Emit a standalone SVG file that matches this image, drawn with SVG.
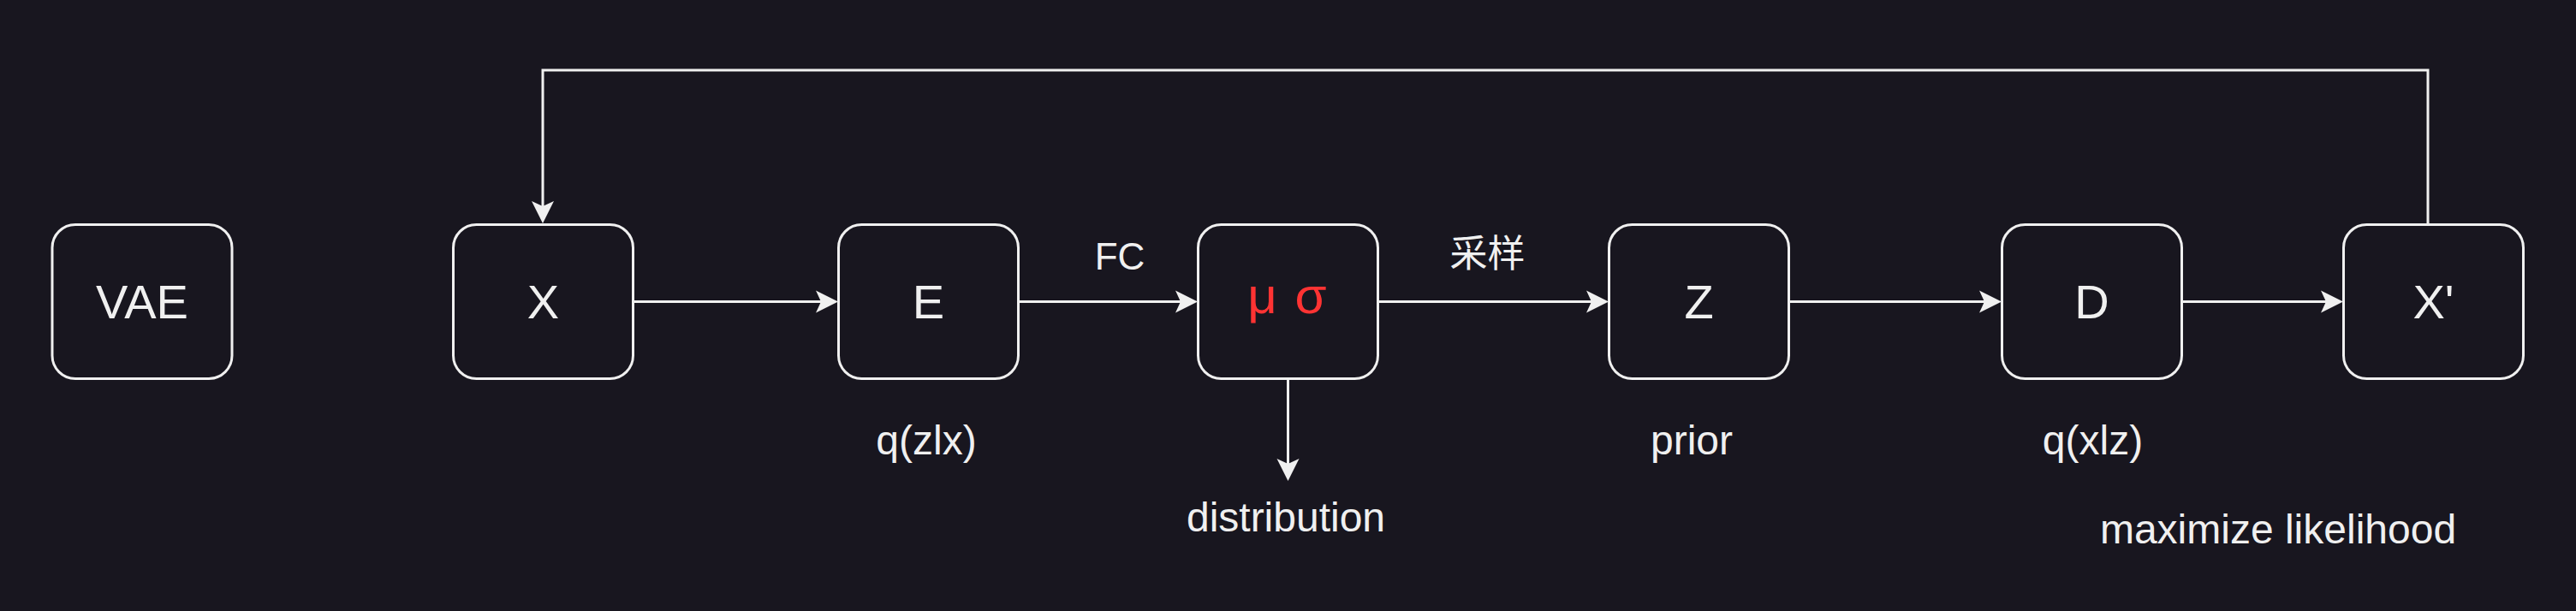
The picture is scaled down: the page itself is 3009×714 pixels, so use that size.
<svg xmlns="http://www.w3.org/2000/svg" width="3009" height="714" viewBox="0 0 3009 714">
<style>
.box{fill:#18161f;stroke:#f0f0f0;stroke-width:3}
.t{font-family:"Liberation Sans",Arial,sans-serif;fill:#f0f0f0;text-anchor:middle}
.big{font-size:56px}
.lbl{font-size:48px}
.edge{font-size:44px}
.red{fill:#ff3333;font-size:60px}
.cn{fill:none;stroke:#f0f0f0;stroke-width:3}
</style>
<defs>
<marker id="arr" markerUnits="userSpaceOnUse" viewBox="-22 -15 30 30" markerWidth="30" markerHeight="30" refX="0" refY="0" orient="auto" overflow="visible">
<path d="M6,0 L-20,-13 L-14,0 L-20,13 Z" fill="#f0f0f0"/>
</marker>
</defs>
<rect width="3009" height="714" fill="#18161f"/>
<g id="connectors">
<path class="cn" d="M740,352.5 H973" marker-end="url(#arr)"/>
<path class="cn" d="M1190,352.5 H1393" marker-end="url(#arr)"/>
<path class="cn" d="M1610,352.5 H1873" marker-end="url(#arr)"/>
<path class="cn" d="M2090,352.5 H2332" marker-end="url(#arr)"/>
<path class="cn" d="M2549,352.5 H2731" marker-end="url(#arr)"/>
<path class="cn" d="M1504.5,443 V556" marker-end="url(#arr)"/>
<path class="cn" d="M2836,262 V82 H634 V255" marker-end="url(#arr)"/>
<text class="t edge" x="1308" y="315">FC</text>
<text class="t edge" x="1737.5" y="312" style="font-family:'Noto Sans CJK SC',sans-serif">采样</text>
</g>
<g id="n-vae"><rect class="box" x="61" y="262.5" width="210" height="180" rx="27"/><text class="t big" x="166" y="372">VAE</text></g>
<g id="n-x"><rect class="box" x="529.5" y="262.5" width="210" height="180" rx="27"/><text class="t big" x="634.5" y="372">X</text></g>
<g id="n-e"><rect class="box" x="979.5" y="262.5" width="210" height="180" rx="27"/><text class="t big" x="1084.5" y="372">E</text></g>
<g id="n-mu"><rect class="box" x="1399.5" y="262.5" width="210" height="180" rx="27"/><text class="t red" x="1504.5" y="366" letter-spacing="2">μ σ</text></g>
<g id="n-z"><rect class="box" x="1879.5" y="262.5" width="210" height="180" rx="27"/><text class="t big" x="1984.5" y="372">Z</text></g>
<g id="n-d"><rect class="box" x="2338.5" y="262.5" width="210" height="180" rx="27"/><text class="t big" x="2443.5" y="372">D</text></g>
<g id="n-xp"><rect class="box" x="2737.5" y="262.5" width="210" height="180" rx="27"/><text class="t big" x="2842.5" y="372">X'</text></g>
<g id="l-qzx"><text class="t lbl" x="1082" y="531">q(zlx)</text></g>
<g id="l-dist"><text class="t lbl" x="1502" y="621">distribution</text></g>
<g id="l-prior"><text class="t lbl" x="1976" y="531">prior</text></g>
<g id="l-qxz"><text class="t lbl" x="2444.5" y="531">q(xlz)</text></g>
<g id="l-ml"><text class="t lbl" x="2661" y="635">maximize likelihood</text></g>
</svg>
